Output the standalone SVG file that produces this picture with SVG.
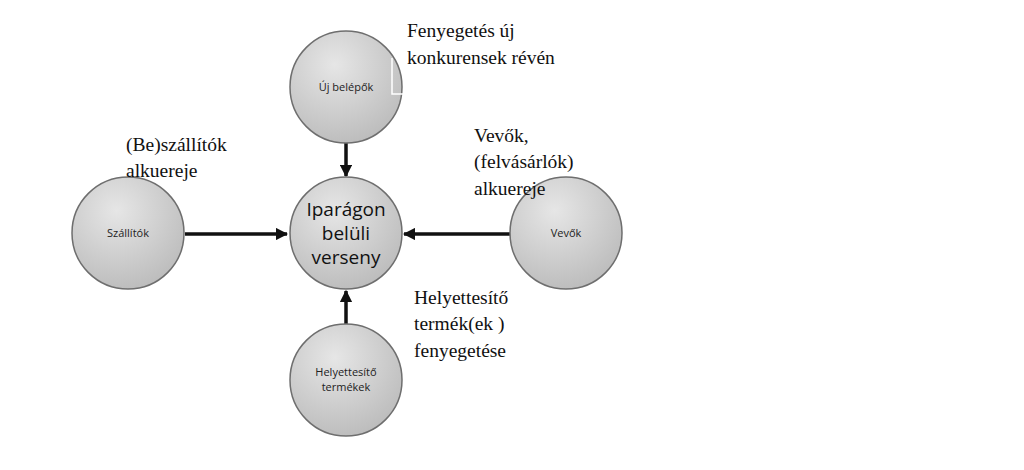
<svg xmlns="http://www.w3.org/2000/svg" width="1024" height="470" viewBox="0 0 1024 470">
<style>
.n{stroke:#6e6e6e;stroke-width:1.5;fill:url(#g)}
.s{font-family:"Open Sans","Liberation Sans",sans-serif;font-size:11px;fill:#222;text-anchor:middle}
.b{font-family:"Open Sans","Liberation Sans",sans-serif;font-size:19px;fill:#111;text-anchor:middle}
.l{font-family:"Liberation Serif",serif;font-size:19.5px;fill:#111}
.c{stroke:#111;stroke-width:3.5;fill:none;marker-end:url(#a)}
</style>
<defs>
<radialGradient id="g" cx="0.4" cy="0.3" r="0.8">
<stop offset="0" stop-color="#e6e6e6"/><stop offset="1" stop-color="#b8b8b8"/>
</radialGradient>
<marker id="a" viewBox="0 0 10 10" refX="9" refY="5" markerWidth="3.5" markerHeight="3.5" orient="auto"><path d="M0,0L10,5L0,10z" fill="#111"/></marker>
</defs>
<rect width="1024" height="470" fill="#fff"/>
<g id="connectors">
<line class="c" x1="346" y1="143" x2="346" y2="176"/>
<line class="c" x1="185" y1="234" x2="287" y2="234"/>
<line class="c" x1="510" y1="234" x2="404" y2="234"/>
<line class="c" x1="346" y1="324" x2="346" y2="291"/>
</g>
<g id="n-uj"><circle class="n" cx="346" cy="87" r="56"/><text class="s" x="346" y="91">Új belépők</text></g>
<g id="n-center"><circle class="n" cx="346" cy="233" r="56"/><text class="b" x="346" y="216">Iparágon</text><text class="b" x="346" y="240">belüli</text><text class="b" x="346" y="264">verseny</text></g>
<g id="n-szall"><circle class="n" cx="128" cy="233" r="56"/><text class="s" x="128" y="237">Szállítók</text></g>
<g id="n-vevok"><circle class="n" cx="566" cy="233" r="56"/><text class="s" x="566" y="237">Vevők</text></g>
<g id="n-helyet"><circle class="n" cx="346" cy="380" r="56"/><text class="s" x="346" y="376">Helyettesítő</text><text class="s" x="346" y="391">termékek</text></g>
<polyline points="392,58 392,94 404,94" fill="none" stroke="#fff" stroke-width="1.5"/>
<g id="labels">
<text class="l" x="407" y="37">Fenyegetés új</text>
<text class="l" x="407" y="64">konkurensek révén</text>
<text class="l" x="126" y="151">(Be)szállítók</text>
<text class="l" x="126" y="177">alkuereje</text>
<text class="l" x="474" y="142">Vevők,</text>
<text class="l" x="474" y="168">(felvásárlók)</text>
<text class="l" x="474" y="195">alkuereje</text>
<text class="l" x="414" y="304">Helyettesítő</text>
<text class="l" x="414" y="330">termék(ek )</text>
<text class="l" x="414" y="357">fenyegetése</text>
</g>
</svg>
